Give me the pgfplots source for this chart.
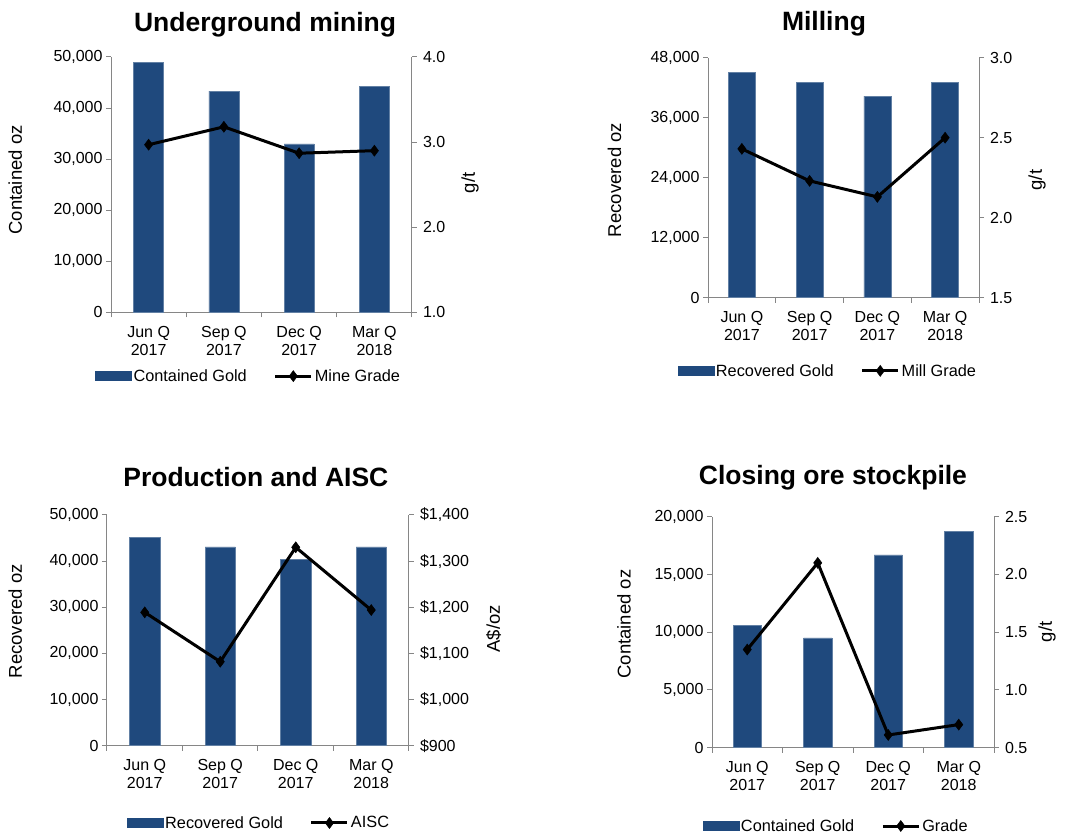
\documentclass[border=0pt]{standalone}
\usepackage{fontspec}
\setmainfont{Liberation Sans}
\usepackage{pgfplots}
\pgfplotsset{compat=1.18}

\definecolor{barblue}{RGB}{31,73,125}
\definecolor{axgray}{RGB}{134,134,134}

\pgfplotsset{
  common/.style={
    scale only axis, anchor=south west,
    xmin=-0.5, xmax=3.5,
    /pgf/number format/assume math mode=true,
    tick align=outside,
    axis line style={draw=axgray, line width=1pt, -},
    tick style={draw=axgray, line width=1pt},
    major tick length=5pt, minor tick length=5pt,
    tick label style={font=\fontsize{16}{18.5}\selectfont, black},
    ylabel style={font=\fontsize{18.5}{21}\selectfont},
  },
  barax/.style={common,
    axis x line*=bottom, axis y line*=left,
    scaled y ticks=false,
    yticklabel style={/pgf/number format/1000 sep={,}},
    xtick={0,1,2,3},
    xticklabels={{Jun Q\\2017},{Sep Q\\2017},{Dec Q\\2017},{Mar Q\\2018}},
    x tick label style={align=center, yshift=-5pt},
    major x tick style={draw=none},
    minor xtick={-0.5,0.5,1.5,2.5,3.5},
    title style={font=\fontsize{26.5}{31}\selectfont\bfseries, anchor=center, yshift=-8pt},
  },
  lineax/.style={common,
    axis x line=none, axis y line*=right,
    xtick=\empty,
    y tick label style={xshift=2.5pt},
    legend columns=2,
    legend style={draw=none, fill=none, anchor=center,
      font=\fontsize{16.3}{19}\selectfont,
      /tikz/every even column/.append style={column sep=25pt}},
  },
  goldbar/.style={ybar, bar width=0.4, fill=barblue, draw=barblue!70!white, line width=0.5pt},
  gradeline/.style={black, line width=3pt, mark=diamond*, mark size=5.5pt,
    mark options={solid, line width=0.5pt}},
  barlegend/.style={legend image code/.code={\fill[barblue] (0pt,-4.5pt) rectangle (36pt,4.5pt);}},
  linelegend/.style={legend image code/.code={\draw[mark repeat=2, mark phase=2, ##1] plot coordinates {(0pt,0pt) (18pt,0pt) (36pt,0pt)};}},
}

\begin{document}
\begin{tikzpicture}

% Underground mining
\begin{axis}[barax, at={(111pt,519.5pt)}, width=301pt, height=255.5pt,
  ymin=0, ymax=50000, ytick={0,10000,...,50000},
  title={Underground mining}, title style={at={(0.512,1.133)}},
  ylabel={Contained oz}, ylabel style={at={(axis description cs:-0.318,0.519)}, anchor=center}]
\addplot[goldbar] coordinates {(0,49000) (1,43300) (2,33000) (3,44300)};
\end{axis}
\begin{axis}[lineax, at={(111pt,519.5pt)}, width=301pt, height=255.5pt,
  ymin=1, ymax=4, ytick={1,2,3,4},
  yticklabel style={/pgf/number format/.cd, fixed, fixed zerofill, precision=1},
  ylabel={g/t}, ylabel style={at={(axis description cs:1.193,0.507)}, anchor=center},
  legend style={at={(0.457,-0.249)}}]
\addlegendimage{barlegend}
\addlegendentry{Contained Gold}
\addplot[gradeline, linelegend] coordinates {(0,2.97) (1,3.18) (2,2.87) (3,2.90)};
\addlegendentry{Mine Grade}
\end{axis}

% Milling
\begin{axis}[barax, at={(708pt,534.3pt)}, width=271pt, height=240pt,
  ymin=0, ymax=48000, ytick={0,12000,...,48000},
  title={Milling}, title style={at={(0.428,1.149)}},
  ylabel={Recovered oz}, ylabel style={at={(axis description cs:-0.345,0.49)}, anchor=center}]
\addplot[goldbar] coordinates {(0,45100) (1,43100) (2,40300) (3,43100)};
\end{axis}
\begin{axis}[lineax, at={(708pt,534.3pt)}, width=271pt, height=240pt,
  ymin=1.5, ymax=3, ytick={1.5,2,2.5,3},
  yticklabel style={/pgf/number format/.cd, fixed, fixed zerofill, precision=1},
  ylabel={g/t}, ylabel style={at={(axis description cs:1.214,0.49)}, anchor=center},
  legend style={at={(0.442,-0.305)}}]
\addlegendimage{barlegend}
\addlegendentry{Recovered Gold}
\addplot[gradeline, linelegend] coordinates {(0,2.43) (1,2.23) (2,2.13) (3,2.50)};
\addlegendentry{Mill Grade}
\end{axis}

% Production and AISC
\begin{axis}[barax, at={(107pt,86.3pt)}, width=302pt, height=230.7pt,
  ymin=0, ymax=50000, ytick={0,10000,...,50000},
  title={Production and AISC}, title style={at={(0.493,1.173)}},
  ylabel={Recovered oz}, ylabel style={at={(axis description cs:-0.304,0.54)}, anchor=center}]
\addplot[goldbar] coordinates {(0,45100) (1,43100) (2,40400) (3,43100)};
\end{axis}
\begin{axis}[lineax, at={(107pt,86.3pt)}, width=302pt, height=230.7pt,
  ymin=900, ymax=1400, ytick={900,1000,...,1400},
  yticklabel={\$\pgfmathprintnumber[1000 sep={,}]{\tick}},
  ylabel={A\$/oz}, ylabel style={at={(axis description cs:1.28,0.506)}, anchor=center},
  legend style={at={(0.503,-0.335)}}]
\addlegendimage{barlegend}
\addlegendentry{Recovered Gold}
\addplot[gradeline, linelegend] coordinates {(0,1189) (1,1082) (2,1330) (3,1194)};
\addlegendentry{AISC}
\end{axis}

% Closing ore stockpile
\begin{axis}[barax, at={(712pt,84.3pt)}, width=282pt, height=231pt,
  ymin=0, ymax=20000, ytick={0,5000,...,20000},
  title={Closing ore stockpile}, title style={at={(0.429,1.176)}},
  ylabel={Contained oz}, ylabel style={at={(axis description cs:-0.312,0.535)}, anchor=center}]
\addplot[goldbar] coordinates {(0,10600) (1,9500) (2,16700) (3,18700)};
\end{axis}
\begin{axis}[lineax, at={(712pt,84.3pt)}, width=282pt, height=231pt,
  ymin=0.5, ymax=2.5, ytick={0.5,1,1.5,2,2.5},
  yticklabel style={/pgf/number format/.cd, fixed, fixed zerofill, precision=1},
  ylabel={g/t}, ylabel style={at={(axis description cs:1.188,0.502)}, anchor=center},
  legend style={at={(0.44,-0.339)}}]
\addlegendimage{barlegend}
\addlegendentry{Contained Gold}
\addplot[gradeline, linelegend] coordinates {(0,1.35) (1,2.10) (2,0.61) (3,0.70)};
\addlegendentry{Grade}
\end{axis}

\pgfresetboundingbox
\path[use as bounding box] (0pt,0pt) rectangle (1066pt,832pt);
\end{tikzpicture}
\end{document}
